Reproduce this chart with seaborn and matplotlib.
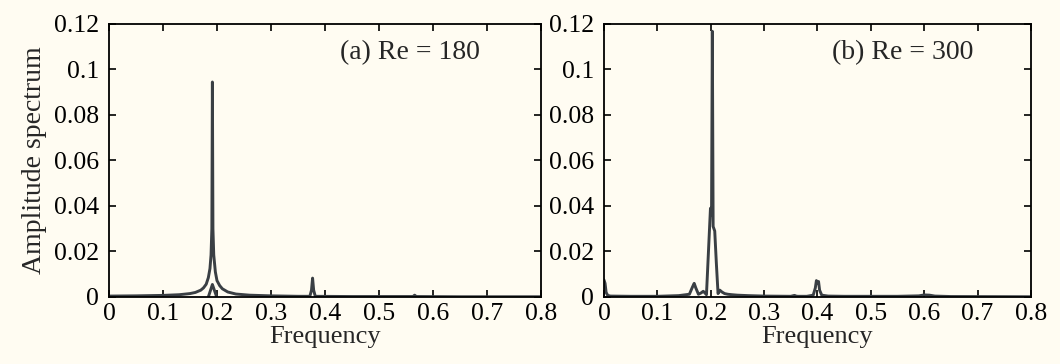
import matplotlib
matplotlib.use("Agg")
import matplotlib.pyplot as plt
import seaborn as sns

# ---------------- data ----------------
# (a) Re = 180 : main spectrum line
freq_a = [0.00, 0.05, 0.10, 0.13, 0.15, 0.16, 0.17, 0.175, 0.180, 0.184, 0.187, 0.189,
          0.1905, 0.1915, 0.1925, 0.194, 0.197, 0.200, 0.205, 0.210, 0.220, 0.235, 0.26,
          0.30, 0.35, 0.372, 0.375, 0.377, 0.379, 0.382, 0.45, 0.55, 0.563, 0.566,
          0.569, 0.65, 0.80]
amp_a = [0.0004, 0.0005, 0.0007, 0.0010, 0.0015, 0.0020, 0.0030, 0.0040, 0.0056, 0.0085,
         0.0125, 0.0185, 0.030, 0.0945, 0.030, 0.0185, 0.011, 0.0072, 0.0050, 0.0036,
         0.0022, 0.0013, 0.0008, 0.0005, 0.0003, 0.0003, 0.0030, 0.0083, 0.0030, 0.0003,
         0.0002, 0.0002, 0.0002, 0.0008, 0.0002, 0.0001, 0.0001]
# (a) inner branch under the peak
freq_a2 = [0.184, 0.1915, 0.1995]
amp_a2 = [0.0, 0.0055, 0.0]

# (b) Re = 300 : main spectrum line
freq_b = [0.000, 0.002, 0.004, 0.007, 0.012, 0.05, 0.10, 0.14, 0.160, 0.166, 0.169,
          0.172, 0.177, 0.182, 0.186, 0.189, 0.192, 0.1995, 0.2015, 0.203, 0.2045,
          0.2075, 0.2105, 0.2137, 0.217, 0.221, 0.226, 0.232, 0.24, 0.25, 0.27, 0.30,
          0.35, 0.357, 0.360, 0.363, 0.38, 0.392, 0.396, 0.398, 0.400, 0.402, 0.404,
          0.408, 0.42, 0.45, 0.55, 0.59, 0.60, 0.61, 0.62, 0.65, 0.80]
amp_b = [0.0075, 0.0060, 0.0020, 0.0007, 0.0004, 0.0003, 0.0003, 0.0006, 0.0012, 0.0045,
         0.0060, 0.0040, 0.0012, 0.0018, 0.0025, 0.0018, 0.0010, 0.0390, 0.0360, 0.1168,
         0.0310, 0.0290, 0.0150, 0.0015, 0.0030, 0.0022, 0.0015, 0.0012, 0.0010, 0.0008,
         0.0006, 0.0004, 0.0003, 0.0007, 0.0004, 0.0003, 0.0003, 0.0008, 0.0040, 0.0072,
         0.0060, 0.0068, 0.0030, 0.0008, 0.0004, 0.0003, 0.0003, 0.0005, 0.0009, 0.0008,
         0.0004, 0.0002, 0.0001]

xticks = [0, 0.1, 0.2, 0.3, 0.4, 0.5, 0.6, 0.7, 0.8]
xticklabels = ["0", "0.1", "0.2", "0.3", "0.4", "0.5", "0.6", "0.7", "0.8"]
yticks = [0, 0.02, 0.04, 0.06, 0.08, 0.10, 0.12]
yticklabels = ["0", "0.02", "0.04", "0.06", "0.08", "0.1", "0.12"]
titles = ["(a) Re = 180", "(b) Re = 300"]

# ---------------- style ----------------
sns.set_style("ticks")
bg = "#fffcf2"
line_color = "#3a3f44"
plt.rcParams["font.family"] = ["Liberation Serif", "DejaVu Serif"]

fig = plt.figure(figsize=(10.6, 3.64), dpi=100, facecolor=bg)
ax_a = fig.add_axes([0.1028, 0.1841, 0.4076, 0.750])
ax_b = fig.add_axes([0.5698, 0.1841, 0.4028, 0.750])

sns.lineplot(x=freq_a, y=amp_a, ax=ax_a, color=line_color, lw=2.1, sort=False)
sns.lineplot(x=freq_a2, y=amp_a2, ax=ax_a, color=line_color, lw=2.1, sort=False)
sns.lineplot(x=freq_b, y=amp_b, ax=ax_b, color=line_color, lw=2.1, sort=False)

for ax, title in zip([ax_a, ax_b], titles):
    ax.set_facecolor(bg)
    ax.set_xlim(0, 0.8)
    ax.set_ylim(0, 0.12)
    ax.set_xticks(xticks)
    ax.set_xticklabels(xticklabels)
    ax.set_yticks(yticks)
    ax.set_yticklabels(yticklabels)
    ax.tick_params(direction="in", length=5, width=1.2, top=True, right=True,
                   labelsize=18.5, colors="black")
    ax.tick_params(axis="y", pad=7)
    ax.tick_params(axis="x", pad=4)
    for sp in ax.spines.values():
        sp.set_visible(True)
        sp.set_linewidth(1.3)
        sp.set_color("black")
    ax.set_xlabel("Frequency", fontsize=19, labelpad=1)
    ax.text(0.535, 0.895, title, transform=ax.transAxes, fontsize=20,
            ha="left", va="center")

ax_a.set_ylabel("Amplitude spectrum", fontsize=20, labelpad=5)
ax_b.set_ylabel("")

fig.savefig("out.png", dpi=100, facecolor=bg)
